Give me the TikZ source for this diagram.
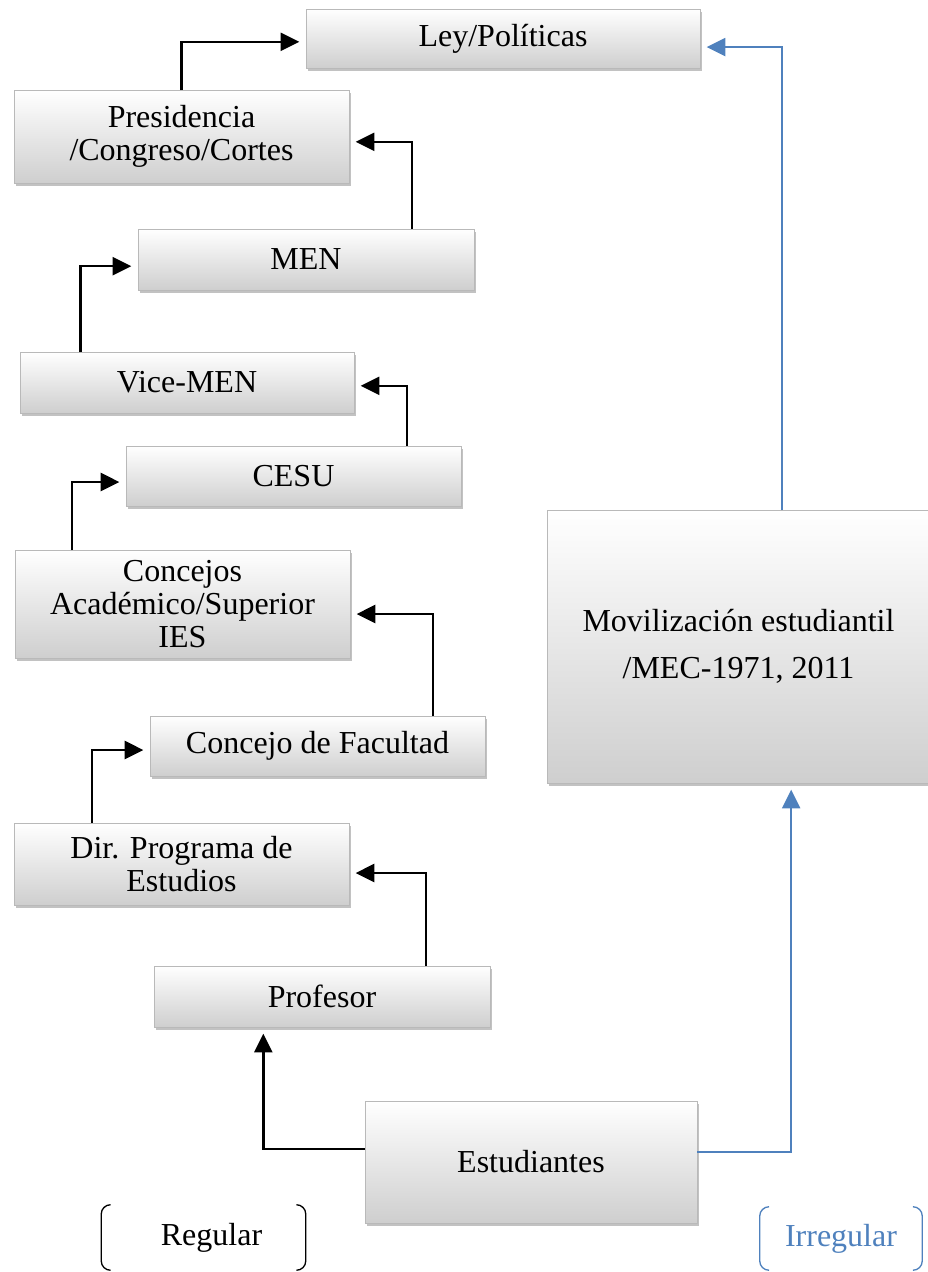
\documentclass[tikz,border=0pt]{standalone}
\usepackage{fontspec}
\setmainfont{Liberation Serif}
\usepackage{tikz}
\usetikzlibrary{positioning,shadows,arrows.meta}
\definecolor{irrblue}{RGB}{79,129,189}

\begin{document}
\begin{tikzpicture}[x=0.75pt,y=-0.75pt,
                       flow box/.style={rectangle,draw=gray!55,line width=0.7pt,
                                        top color=white,bottom color=gray!38,
                                        drop shadow={shadow xshift=1.5pt,shadow yshift=-2.5pt,
                                                     opacity=0.4,fill=black!60},
                                        inner sep=0pt,outer sep=0pt,align=center,
                                        font=\fontsize{24}{24.75}\selectfont},
                       flow arrow/.style={line width=1.8pt,black,shorten >=5pt,
                                          -{Triangle[length=14pt,width=13.5pt]}},
                       irr arrow/.style={line width=1.6pt,irrblue,shorten >=5pt,
                                         -{Triangle[length=14pt,width=13.5pt]}},
                       key node/.style={inner sep=0pt,font=\fontsize{24}{24.75}\selectfont},
                       bracket line/.style={line width=1pt,rounded corners=7pt}
                      ]
   \useasboundingbox (0,0) rectangle (928,1272);
   % regular chain
   \node[flow box,minimum width=295.5pt,minimum height=44.25pt] (ley)  at (503.0,38.5)  {Ley/Políticas};
   \node[flow box,minimum width=251.25pt,minimum height=69.75pt] (pres) at (181.5,136.5) {Presidencia\\/Congreso/Cortes};
   \node[flow box,minimum width=252pt,minimum height=45.75pt] (men)  at (306.0,259.5) {MEN};
   \node[flow box,minimum width=250.5pt,minimum height=45.75pt] (vice) at (187.0,382.5) {Vice-MEN};
   \node[flow box,minimum width=251.25pt,minimum height=45pt] (cesu) at (293.5,476.0) {CESU};
   \node[flow box,minimum width=251.25pt,minimum height=81pt] (conc) at (182.5,604.0) {Concejos\\Académico/Superior\\IES};
   \node[flow box,minimum width=251.25pt,minimum height=45pt] (fac)  at (317.5,746.0) {Concejo de Facultad};
   \node[flow box,minimum width=251.25pt,minimum height=61.5pt] (dir)  at (181.5,864.0) {Dir. Programa de\\Estudios};
   \node[flow box,minimum width=252pt,minimum height=45.75pt] (prof) at (322.0,996.5) {Profesor};
   \node[flow box,minimum width=249pt,minimum height=91.5pt] (est)  at (531.0,1162.0) {Estudiantes};
   % irregular route
   \node[flow box,minimum width=287.25pt,minimum height=204.75pt,
         font=\fontsize{24}{35.25}\selectfont] (mov) at (738.5,646.5) {Movilización estudiantil\\/MEC-1971, 2011};
   % keys
   \node[key node,minimum width=153pt,minimum height=48.75pt] (reg) at (203.5,1237.5) {\hspace*{12pt}Regular};
   \node[key node,minimum width=121.5pt,minimum height=47.25pt,text=irrblue] (irr) at (841.0,1238.5) {Irregular};

   \draw[flow arrow] (pres.north) |- ([yshift=-2.5pt]ley.west);
   \draw[flow arrow] ([xshift=79.5pt]men.north) |- ([yshift=-4pt]pres.east);
   \draw[flow arrow] ([xshift=-80pt]vice.north) |- ([yshift=-5pt]men.west);
   \draw[flow arrow] ([xshift=85pt]cesu.north) |- ([yshift=-2.5pt]vice.east);
   \draw[flow arrow] ([xshift=-83pt]conc.north) |- ([yshift=-4.5pt]cesu.west);
   \draw[flow arrow] ([xshift=86.5pt]fac.north) |- ([yshift=-7.5pt]conc.east);
   \draw[flow arrow] ([xshift=-67pt]dir.north) |- ([yshift=-3pt]fac.west);
   \draw[flow arrow] ([xshift=78pt]prof.north) |- ([yshift=-6.75pt]dir.east);
   \draw[flow arrow] ([yshift=9.75pt]est.west) -| ([xshift=-44pt]prof.south);
   \draw[irr arrow] ([yshift=7.5pt]est.east) -| ([xshift=39.5pt]mov.south);
   \draw[irr arrow] ([xshift=32.5pt]mov.north) |- ([yshift=-6.4pt]ley.east);

   \draw[bracket line] ([xshift=7pt]reg.north west) -- (reg.north west) -- (reg.south west) -- ([xshift=7pt]reg.south west);
   \draw[bracket line] ([xshift=-7pt]reg.north east) -- (reg.north east) -- (reg.south east) -- ([xshift=-7pt]reg.south east);
   \draw[bracket line,irrblue] ([xshift=7pt]irr.north west) -- (irr.north west) -- (irr.south west) -- ([xshift=7pt]irr.south west);
   \draw[bracket line,irrblue] ([xshift=-7pt]irr.north east) -- (irr.north east) -- (irr.south east) -- ([xshift=-7pt]irr.south east);
  \end{tikzpicture}
\end{document}
